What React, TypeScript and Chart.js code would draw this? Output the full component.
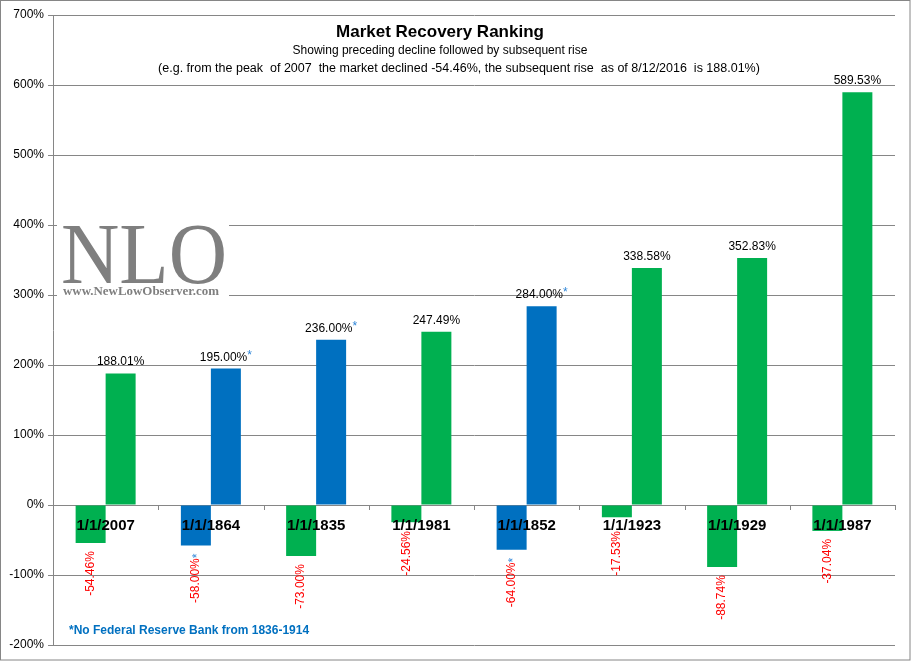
import React, { useEffect, useRef } from 'react';
import { Chart, registerables } from 'chart.js';

Chart.register(...registerables);

const categories = ['1/1/2007', '1/1/1864', '1/1/1835', '1/1/1981', '1/1/1852', '1/1/1923', '1/1/1929', '1/1/1987'];
const declineValues = [-54.46, -58.0, -73.0, -24.56, -64.0, -17.53, -88.74, -37.04];
const riseValues = [188.01, 195.0, 236.0, 247.49, 284.0, 338.58, 352.83, 589.53];
const declineStar = [false, true, false, false, true, false, false, false];
const riseStar = [false, true, true, false, true, false, false, false];
const GREEN = '#00B050';
const BLUE = '#0070C0';
const declineColors = [GREEN, BLUE, GREEN, GREEN, BLUE, GREEN, GREEN, GREEN];
const riseColors = [GREEN, BLUE, BLUE, GREEN, BLUE, GREEN, GREEN, GREEN];
const yMin = -200;
const yMax = 700;
const yStep = 100;

const titleText = 'Market Recovery Ranking';
const subtitleText = 'Showing preceding decline followed by subsequent rise';
const noteText = '(e.g. from the peak  of 2007  the market declined -54.46%, the subsequent rise  as of 8/12/2016  is 188.01%)';
const footnoteText = '*No Federal Reserve Bank from 1836-1914';

const W = 911;
const H = 661;
const SANS = '"Liberation Sans", Arial, sans-serif';
const SERIF = '"Liberation Serif", "Times New Roman", serif';
const GRAY = '#868686';
const STAR_BLUE = '#2F86D8';

const fmt = (v: number) => v.toFixed(2) + '%';

const decorPlugin = {
  id: 'decor',
  beforeDraw(chart: any) {
    const ctx = chart.ctx;
    ctx.save();
    ctx.fillStyle = '#ffffff';
    ctx.fillRect(0, 0, W, H);
    ctx.strokeStyle = GRAY;
    ctx.lineWidth = 1;
    ctx.strokeRect(0.5, 0.5, W - 1.5, H - 1.5);
    ctx.restore();
  },
  beforeDatasetsDraw(chart: any) {
    const ctx = chart.ctx;
    const ca = chart.chartArea;
    ctx.save();
    // watermark
    const wx = ca.left + 4;
    ctx.fillStyle = '#ffffff';
    ctx.fillRect(wx, 222, 172, 76);
    ctx.fillStyle = '#7F7F7F';
    ctx.font = `86px ${SERIF}`;
    const nw = ctx.measureText('NLO').width;
    ctx.save();
    ctx.translate(wx + 4, 283);
    ctx.scale(166 / nw, 1);
    ctx.textBaseline = 'alphabetic';
    ctx.fillText('NLO', 0, 0);
    ctx.restore();
    ctx.font = `bold 12px ${SERIF}`;
    const ww = ctx.measureText('www.NewLowObserver.com').width;
    ctx.save();
    ctx.translate(wx + 6, 295);
    ctx.scale(156 / ww, 1);
    ctx.fillText('www.NewLowObserver.com', 0, 0);
    ctx.restore();
    ctx.restore();
  },
  afterDatasetsDraw(chart: any) {
    const ctx = chart.ctx;
    const x = chart.scales.x;
    const y = chart.scales.y;
    const zeroY = y.getPixelForValue(0);
    ctx.save();

    // tick marks on the zero line at category boundaries
    ctx.strokeStyle = GRAY;
    ctx.lineWidth = 1;
    for (let i = 0; i <= categories.length; i++) {
      const px = Math.round(x.getPixelForValue(i - 0.5)) + 0.5;
      ctx.beginPath();
      ctx.moveTo(px, zeroY);
      ctx.lineTo(px, zeroY + 5);
      ctx.stroke();
    }

    const decMeta = chart.getDatasetMeta(0);
    const riseMeta = chart.getDatasetMeta(1);

    // rise labels
    ctx.font = `12px ${SANS}`;
    ctx.textBaseline = 'alphabetic';
    riseValues.forEach((v, i) => {
      const bar = riseMeta.data[i];
      const main = fmt(v);
      const mw = ctx.measureText(main).width;
      const sw = riseStar[i] ? ctx.measureText('*').width : 0;
      const left = bar.x - (mw + sw) / 2;
      ctx.textAlign = 'left';
      ctx.fillStyle = '#000000';
      ctx.fillText(main, left, bar.y - 8);
      if (riseStar[i]) {
        ctx.fillStyle = STAR_BLUE;
        ctx.fillText('*', left + mw, bar.y - 10);
      }
    });

    // decline labels (rotated)
    declineValues.forEach((v, i) => {
      const bar = decMeta.data[i];
      const top = Math.max(bar.y + 8, zeroY + 26);
      ctx.save();
      ctx.translate(bar.x, top);
      ctx.rotate(-Math.PI / 2);
      ctx.font = `12px ${SANS}`;
      ctx.textBaseline = 'middle';
      ctx.textAlign = 'right';
      let end = 0;
      if (declineStar[i]) {
        ctx.fillStyle = STAR_BLUE;
        ctx.fillText('*', 0, 2);
        end = -ctx.measureText('*').width;
      }
      ctx.fillStyle = '#FF0000';
      ctx.fillText(fmt(v), end, 0);
      ctx.restore();
    });

    // category labels over the bars
    ctx.font = `bold 15px ${SANS}`;
    ctx.textAlign = 'center';
    ctx.textBaseline = 'alphabetic';
    ctx.fillStyle = '#000000';
    categories.forEach((c, i) => {
      ctx.fillText(c, x.getPixelForValue(i), zeroY + 25);
    });

    // titles
    ctx.font = `bold 17px ${SANS}`;
    ctx.fillText(titleText, 440, 37);
    ctx.font = `12px ${SANS}`;
    ctx.fillText(subtitleText, 440, 54);
    ctx.font = `12.5px ${SANS}`;
    ctx.fillText(noteText, 459, 72);

    // footnote
    ctx.font = `bold 12px ${SANS}`;
    ctx.textAlign = 'left';
    ctx.fillStyle = BLUE;
    ctx.fillText(footnoteText, 69, 634);
    ctx.restore();
  },
};

export default function App() {
  const ref = useRef<HTMLCanvasElement>(null);
  useEffect(() => {
    const canvas = ref.current;
    if (!canvas) return;
    const chart = new Chart(canvas, {
      type: 'bar',
      data: {
        labels: categories,
        datasets: [
          {
            label: 'Decline',
            data: declineValues,
            backgroundColor: declineColors,
            categoryPercentage: 0.57,
            barPercentage: 1,
          },
          {
            label: 'Rise',
            data: riseValues,
            backgroundColor: riseColors,
            categoryPercentage: 0.57,
            barPercentage: 1,
          },
        ],
      },
      options: {
        responsive: false,
        animation: false,
        devicePixelRatio: 1,
        layout: { padding: { top: 15, bottom: 16, left: 0, right: 16 } },
        plugins: {
          legend: { display: false },
          title: { display: false },
          tooltip: { enabled: false },
        },
        scales: {
          x: { display: false },
          y: {
            min: yMin,
            max: yMax,
            afterFit: (scale: any) => {
              scale.width = 53;
            },
            ticks: {
              stepSize: yStep,
              padding: 4,
              color: '#000000',
              font: { family: SANS, size: 12 },
              callback: (v: any) => `${v}%`,
            },
            grid: { color: GRAY, lineWidth: 1, tickLength: 5, drawTicks: true },
            border: { display: true, color: GRAY, width: 1 },
          },
        },
      },
      plugins: [decorPlugin],
    });
    return () => chart.destroy();
  }, []);
  return (
    <div style={{ position: 'absolute', left: 0, top: 0, width: W, height: H }}>
      <canvas ref={ref} width={W} height={H} style={{ width: W, height: H, display: 'block' }} />
    </div>
  );
}
